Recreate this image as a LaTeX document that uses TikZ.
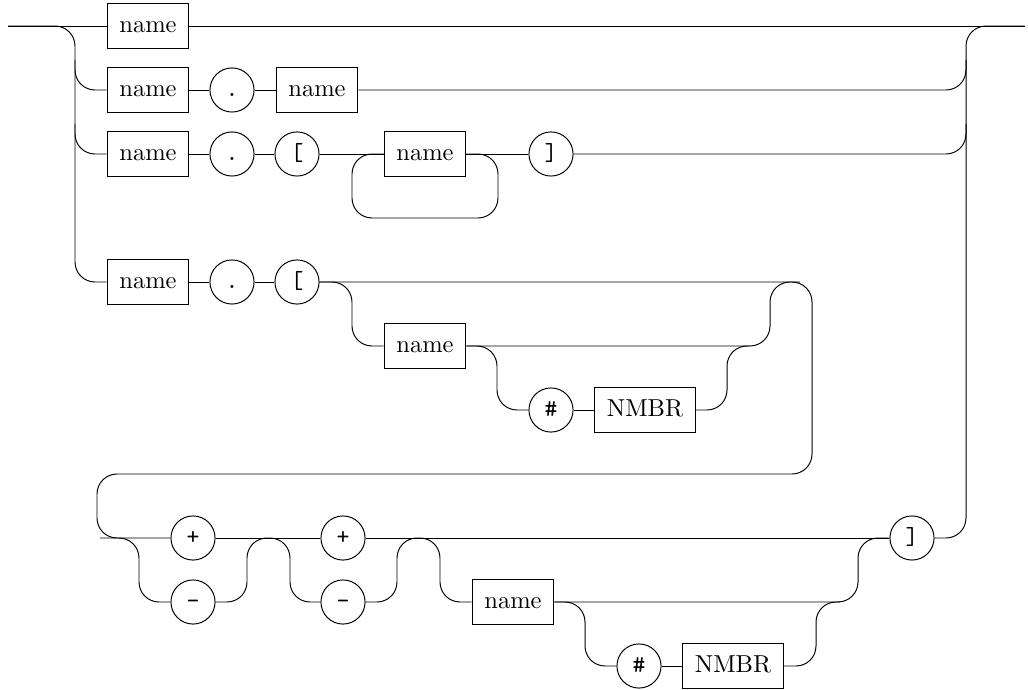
\documentclass[tikz,border=0pt]{standalone}
\begin{document}
\begin{tikzpicture}[x=0.408pt,y=-0.408pt,
  termbox/.style={draw,rectangle,fill=white,inner xsep=5pt,inner ysep=0pt,minimum height=18pt,
    text height=7pt,text depth=2pt},
  tok/.style={draw,circle,fill=white,inner sep=0pt,minimum size=18pt,font=\ttfamily,
    text height=7pt,text depth=2pt},
  rail/.style={rounded corners=8.16pt}]
\useasboundingbox (0,0) rectangle (1028,690);

% entry and exit of the rail
\coordinate (start) at (8,26);
\coordinate (end) at (1025,26);

% first alternative
\node[termbox] (n1) at (148,26) {name};

% second alternative
\node[termbox] (n2a) at (148,90) {name};
\node[tok] (d2) at (232,90) {.};
\node[termbox] (n2b) at (317,90) {name};

% third alternative
\node[termbox] (n3a) at (148,154) {name};
\node[tok] (d3) at (232,154) {.};
\node[tok] (lb3) at (297,154) {[};
\node[termbox] (n3b) at (425,154) {name};
\node[tok] (rb3) at (551,154) {]};

% fourth alternative, first line
\node[termbox] (n4a) at (148,282) {name};
\node[tok] (d4) at (232,282) {.};
\node[tok] (lb4) at (297,282) {[};
\node[termbox] (n4b) at (425,346) {name};
\node[tok] (h4) at (551,410) {\#};
\node[termbox] (nm4) at (645,410) {NMBR};

% fourth alternative, continued
\node[tok] (p1) at (193,538) {+};
\node[tok] (m1) at (193,602) {-};
\node[tok] (p2) at (343,538) {+};
\node[tok] (m2) at (343,602) {-};
\node[termbox] (n5) at (513,602) {name};
\node[tok] (h5) at (639,666) {\#};
\node[termbox] (nm5) at (733,666) {NMBR};
\node[tok] (rb5) at (912,538) {]};

% main line
\draw (start) -- (n1.west);
\draw (n1.east) -- (end);

% left splits
\draw[rail] (start) -- (75,26) -- (75,282) -- (n4a.west);
\draw[rail] (75,60) -- (75,90) -- (n2a.west);
\draw[rail] (75,124) -- (75,154) -- (n3a.west);

% right joins
\draw[rail] (rb5.east) -- (966,538) -- (966,26) -- (end);
\draw[rail] (n2b.east) -- (966,90) -- (966,60);
\draw[rail] (rb3.east) -- (966,154) -- (966,124);

% second alternative
\draw (n2a) -- (d2) -- (n2b);

% third alternative with its loop
\draw (n3a) -- (d3) -- (lb3) -- (n3b) -- (rb3);
\draw[rail] (n3b.east) -- (498,154) -- (498,218) -- (352,218) -- (352,154) -- (n3b.west);

% fourth alternative
\draw (n4a) -- (d4) -- (lb4);
\draw[rail] (lb4.east) -- (812,282) -- (812,474) -- (97,474) -- (97,538) -- (p1.west);
\draw[rail] (lb4.east) -- (352,282) -- (352,346) -- (n4b.west);
\draw[rail] (n4b.east) -- (770,346) -- (770,282) -- (800,282);
\draw[rail] (n4b.east) -- (497,346) -- (497,410) -- (h4.west);
\draw (h4) -- (nm4);
\draw[rail] (nm4.east) -- (727,410) -- (727,346) -- (750,346);

% sign choices
\draw[rail] (100,538) -- (139,538) -- (139,602) -- (m1.west);
\draw[rail] (m1.east) -- (247,602) -- (247,538) -- (290,538) -- (290,602) -- (m2.west);
\draw (p1) -- (p2);
\draw[rail] (m2.east) -- (397,602) -- (397,538) -- (440,538) -- (440,602) -- (n5.west);
\draw (p2) -- (rb5);

% optional name with optional number
\draw[rail] (n5.east) -- (858,602) -- (858,538) -- (rb5.west);
\draw[rail] (n5.east) -- (585,602) -- (585,666) -- (h5.west);
\draw (h5) -- (nm5);
\draw[rail] (nm5.east) -- (816,666) -- (816,602) -- (840,602);
\end{tikzpicture}
\end{document}
